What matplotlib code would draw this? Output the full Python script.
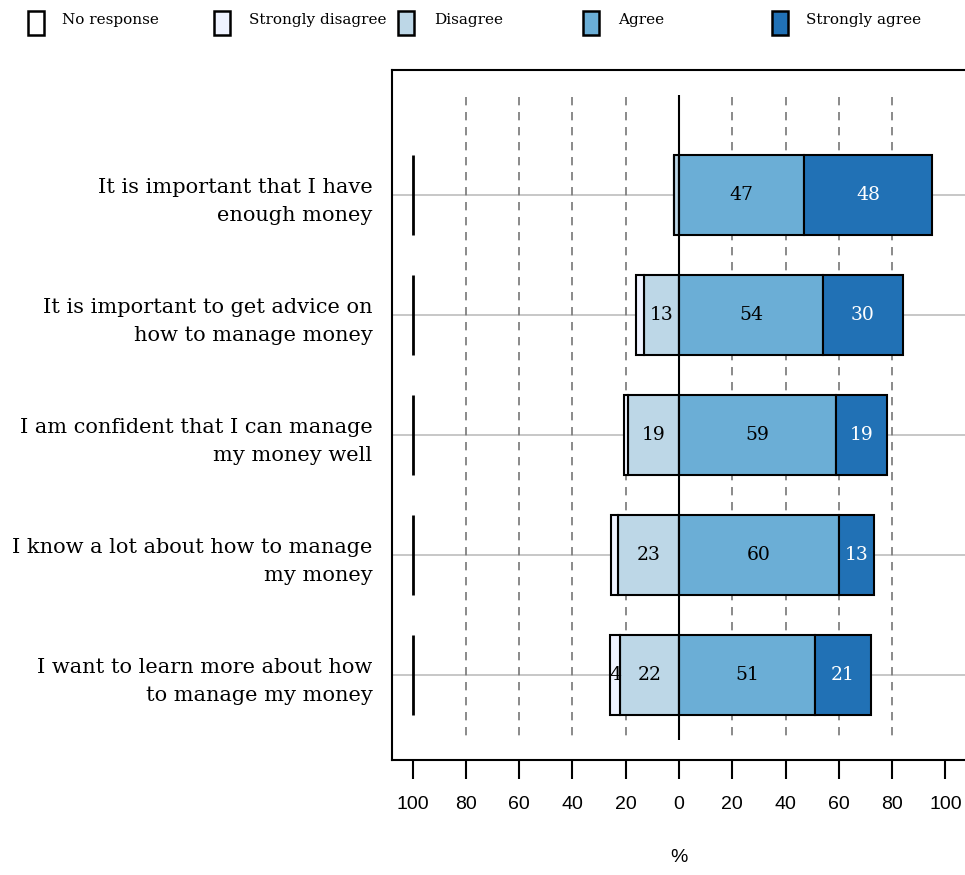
import numpy as np
import matplotlib.pyplot as plt
from matplotlib.patches import Rectangle

# ------------------------------------------
# data
statements = [
    "It is important that I have\nenough money",
    "It is important to get advice on\nhow to manage money",
    "I am confident that I can manage\nmy money well",
    "I know a lot about how to manage\nmy money",
    "I want to learn more about how\nto manage my money",
]
categories = ["No response", "Strongly disagree", "Disagree", "Agree", "Strongly agree"]
no_response = [0.3, 0.3, 0.3, 0.3, 0.3]
strongly_disagree = [0, 3, 1.5, 2.5, 4]
disagree = [2, 13, 19, 23, 22]
agree = [47, 54, 59, 60, 51]
strongly_agree = [48, 30, 19, 13, 21]

colors = ["#FFFFFF", "#EFF3FF", "#BDD7E7", "#6BAED6", "#2171B5"]
serif = "DejaVu Serif"
sans = "Liberation Sans"

# ------------------------------------------
fig = plt.figure(figsize=(9.65, 8.75), dpi=100, facecolor="white")
ax = fig.add_axes([392 / 965, 115 / 875, 574 / 965, 690 / 875])

y = np.arange(len(statements))
h = 0.667

# background guides
ax.hlines(y, -110, 110, color="#BEBEBE", lw=1.2, zorder=0)
for gx in [-80, -60, -40, -20, 20, 40, 60, 80]:
    ax.vlines(gx, -0.82, 4.54, color="#777777", lw=1.2, linestyles=(0, (5, 4)), zorder=0.5)

# bars
sd = np.array(strongly_disagree)
d = np.array(disagree)
a = np.array(agree)
sa = np.array(strongly_agree)

ax.barh(y, -d, height=h, left=0, color=colors[2], edgecolor="black", lw=1.5, zorder=2)
ax.barh(y, -sd, height=h, left=-d, color=colors[1], edgecolor="black", lw=1.5, zorder=2)
ax.barh(y, a, height=h, left=0, color=colors[3], edgecolor="black", lw=1.5, zorder=2)
ax.barh(y, sa, height=h, left=a, color=colors[4], edgecolor="black", lw=1.5, zorder=2)
ax.barh(y, no_response, height=h, left=-100, color="black", edgecolor="black", lw=2, zorder=2)

ax.vlines(0, -0.83, 4.54, color="black", lw=1.5, zorder=3)

# value labels
def label(vals, centers, color):
    for yi, v, c in zip(y, vals, centers):
        if v >= 4:
            ax.text(c, yi, f"{v:g}", ha="center", va="center", fontsize=13.5,
                    family=serif, color=color, zorder=4)

label(d, -d / 2, "black")
label(sd, -d - sd / 2, "black")
label(a, a / 2, "black")
label(sa, a + sa / 2, "white")

ax.set_xlim(-107.7, 107.7)
ax.set_ylim(4.708, -1.042)
ax.set_xticks(np.arange(-100, 101, 20))
ax.set_xticklabels([str(abs(t)) for t in range(-100, 101, 20)])
ax.set_yticks(y)
ax.set_yticklabels(statements, family=serif, fontsize=15, linespacing=1.6)
ax.tick_params(axis="y", length=0, pad=14)
ax.tick_params(axis="x", length=14, width=1.5, pad=12, labelsize=14)
for t in ax.get_xticklabels():
    t.set_family(sans)
for t in ax.get_yticklabels():
    t.set_ha("right")
ax.set_xlabel("%", family=sans, fontsize=14, labelpad=26)
for s in ax.spines.values():
    s.set_linewidth(1.5)
ax.spines["right"].set_visible(False)

# legend row at the top
box_x = [28, 214, 398, 583, 772]
text_x = [62, 249, 434, 618, 806]
for bx, tx, col, cat in zip(box_x, text_x, colors, categories):
    fig.patches.append(Rectangle((bx / 965, 1 - 35 / 875), 16 / 965, 24 / 875,
                                 transform=fig.transFigure, facecolor=col,
                                 edgecolor="black", lw=1.8))
    fig.text(tx / 965, 1 - 20 / 875, cat, family=serif, fontsize=11,
             va="center", ha="left")

fig.savefig("out.png", dpi=100, facecolor="white")
